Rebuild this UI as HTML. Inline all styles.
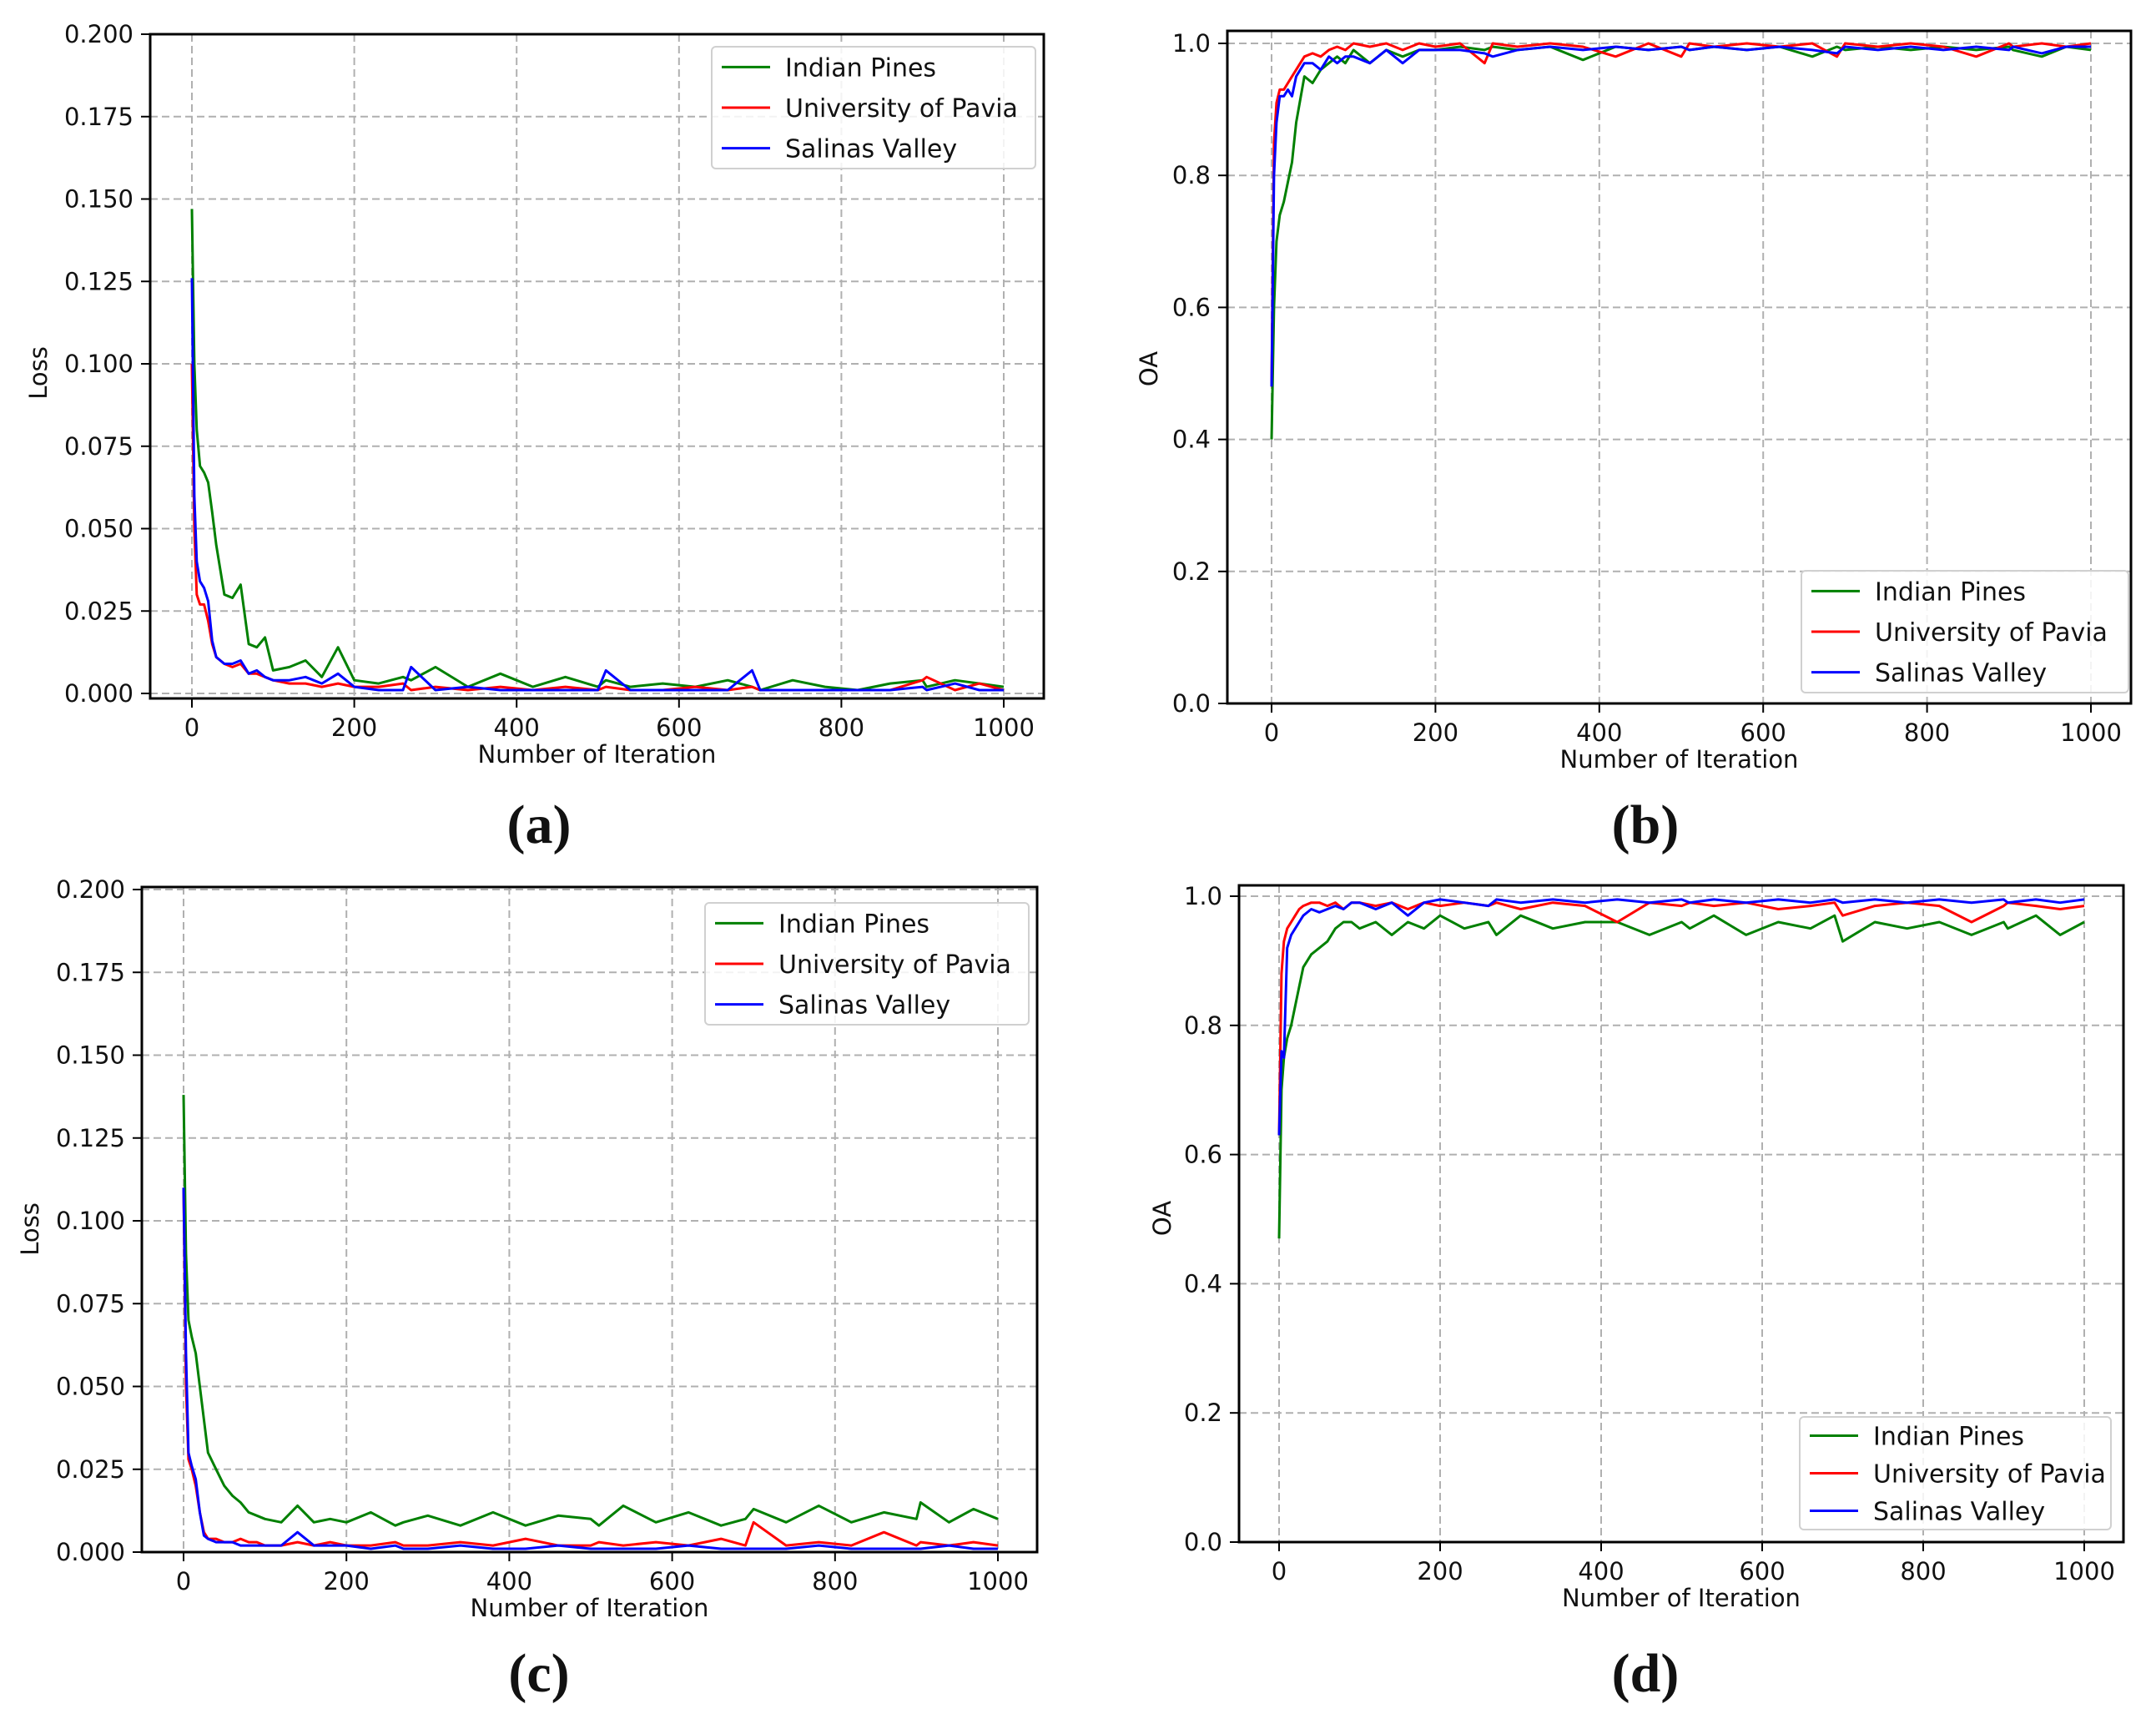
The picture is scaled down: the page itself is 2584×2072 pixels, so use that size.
<!DOCTYPE html>
<html><head><meta charset="utf-8">
<style>
html,body{margin:0;padding:0;background:#fff;}
svg{display:block;}
text{font-family:"DejaVu Sans","Liberation Sans",sans-serif;fill:#111;}
.cap{font-family:"Liberation Serif",serif;font-weight:bold;font-size:66px;}
</style></head>
<body>
<svg id="fig" width="2584" height="2072" viewBox="0 0 2584 2072" xmlns="http://www.w3.org/2000/svg"></svg>
<script>
// ---------- data ----------
const iters = [0,3,6,10,15,20,25,30,40,50,60,70,80,90,100,120,140,160,180,200,230,260,270,300,340,380,420,460,500,510,540,580,620,660,690,700,740,780,820,860,900,905,940,970,1000];
const seriesNames = ["Indian Pines","University of Pavia","Salinas Valley"];
const xTickVals = [0,200,400,600,800,1000];
const lossTickVals = [0,0.025,0.05,0.075,0.1,0.125,0.15,0.175,0.2];
const lossTickLabels = ["0.000","0.025","0.050","0.075","0.100","0.125","0.150","0.175","0.200"];
const oaTickVals = [0,0.2,0.4,0.6,0.8,1.0];
const oaTickLabels = ["0.0","0.2","0.4","0.6","0.8","1.0"];

// (a) loss
const aGreen = [0.147,0.100,0.080,0.069,0.067,0.064,0.055,0.045,0.030,0.029,0.033,0.015,0.014,0.017,0.007,0.008,0.010,0.005,0.014,0.004,0.003,0.005,0.004,0.008,0.002,0.006,0.002,0.005,0.002,0.004,0.002,0.003,0.002,0.004,0.002,0.001,0.004,0.002,0.001,0.003,0.004,0.002,0.004,0.003,0.002];
const aRed   = [0.100,0.050,0.030,0.027,0.027,0.022,0.015,0.011,0.009,0.008,0.009,0.006,0.006,0.005,0.004,0.003,0.003,0.002,0.003,0.002,0.002,0.003,0.001,0.002,0.001,0.002,0.001,0.002,0.001,0.002,0.001,0.001,0.002,0.001,0.002,0.001,0.001,0.001,0.001,0.001,0.004,0.005,0.001,0.003,0.001];
const aBlue  = [0.126,0.060,0.040,0.034,0.032,0.028,0.016,0.011,0.009,0.009,0.010,0.006,0.007,0.005,0.004,0.004,0.005,0.003,0.006,0.002,0.001,0.001,0.008,0.001,0.002,0.001,0.001,0.001,0.001,0.007,0.001,0.001,0.001,0.001,0.007,0.001,0.001,0.001,0.001,0.001,0.002,0.001,0.003,0.001,0.001];
// (b) OA
const bGreen = [0.40,0.60,0.70,0.74,0.76,0.79,0.82,0.88,0.95,0.94,0.96,0.97,0.98,0.97,0.99,0.97,0.99,0.98,0.99,0.99,0.995,0.99,0.995,0.99,0.995,0.975,0.995,0.99,0.995,0.99,0.995,0.99,0.995,0.98,0.995,0.99,0.995,0.99,0.995,0.99,0.995,0.99,0.98,0.995,0.99];
const bRed   = [0.48,0.85,0.91,0.93,0.93,0.94,0.95,0.96,0.98,0.985,0.98,0.99,0.995,0.99,1.0,0.995,1.0,0.99,1.0,0.995,1.0,0.97,1.0,0.995,1.0,0.995,0.98,1.0,0.98,1.0,0.995,1.0,0.995,1.0,0.98,1.0,0.995,1.0,0.995,0.98,1.0,0.995,1.0,0.995,1.0];
const bBlue  = [0.48,0.80,0.88,0.92,0.92,0.93,0.92,0.95,0.97,0.97,0.96,0.98,0.97,0.98,0.98,0.97,0.99,0.97,0.99,0.99,0.99,0.985,0.98,0.99,0.995,0.99,0.995,0.99,0.995,0.99,0.995,0.99,0.995,0.99,0.985,0.995,0.99,0.995,0.99,0.995,0.99,0.995,0.985,0.995,0.995];
// (c) loss
const cGreen = [0.138,0.090,0.070,0.065,0.060,0.050,0.040,0.030,0.025,0.020,0.017,0.015,0.012,0.011,0.010,0.009,0.014,0.009,0.010,0.009,0.012,0.008,0.009,0.011,0.008,0.012,0.008,0.011,0.010,0.008,0.014,0.009,0.012,0.008,0.010,0.013,0.009,0.014,0.009,0.012,0.010,0.015,0.009,0.013,0.010];
const cRed   = [0.110,0.050,0.028,0.025,0.020,0.012,0.006,0.004,0.004,0.003,0.003,0.004,0.003,0.003,0.002,0.002,0.003,0.002,0.003,0.002,0.002,0.003,0.002,0.002,0.003,0.002,0.004,0.002,0.002,0.003,0.002,0.003,0.002,0.004,0.002,0.009,0.002,0.003,0.002,0.006,0.002,0.003,0.002,0.003,0.002];
const cBlue  = [0.110,0.060,0.030,0.026,0.022,0.012,0.005,0.004,0.003,0.003,0.003,0.002,0.002,0.002,0.002,0.002,0.006,0.002,0.002,0.002,0.001,0.002,0.001,0.001,0.002,0.001,0.001,0.002,0.001,0.001,0.001,0.001,0.002,0.001,0.001,0.001,0.001,0.002,0.001,0.001,0.001,0.001,0.002,0.001,0.001];
// (d) OA
const dGreen = [0.47,0.70,0.75,0.78,0.80,0.83,0.86,0.89,0.91,0.92,0.93,0.95,0.96,0.96,0.95,0.96,0.94,0.96,0.95,0.97,0.95,0.96,0.94,0.97,0.95,0.96,0.96,0.94,0.96,0.95,0.97,0.94,0.96,0.95,0.97,0.93,0.96,0.95,0.96,0.94,0.96,0.95,0.97,0.94,0.96];
const dRed   = [0.63,0.88,0.93,0.95,0.96,0.97,0.98,0.985,0.99,0.99,0.985,0.99,0.98,0.99,0.99,0.985,0.99,0.98,0.99,0.985,0.99,0.985,0.99,0.98,0.99,0.985,0.96,0.99,0.985,0.99,0.985,0.99,0.98,0.985,0.99,0.97,0.985,0.99,0.985,0.96,0.985,0.99,0.985,0.98,0.985];
const dBlue  = [0.63,0.76,0.75,0.92,0.94,0.95,0.96,0.97,0.98,0.975,0.98,0.985,0.98,0.99,0.99,0.98,0.99,0.97,0.99,0.995,0.99,0.985,0.995,0.99,0.995,0.99,0.995,0.99,0.995,0.99,0.995,0.99,0.995,0.99,0.995,0.99,0.995,0.99,0.995,0.99,0.995,0.99,0.995,0.99,0.995];

const colors = ["#008000","#ff0000","#0000ff"];
const NS = "http://www.w3.org/2000/svg";
const svg = document.getElementById("fig");
function mk(tag, attrs, parent){
  const e = document.createElementNS(NS, tag);
  for (const k in attrs) e.setAttribute(k, attrs[k]);
  (parent||svg).appendChild(e);
  return e;
}

function panel(cfg){
  const g = mk("g", {});
  
  
  const xs = v => cfg.x0 + v/1000*(cfg.x1000 - cfg.x0);
  const ys = v => cfg.yAt0 + (v - 0)/(cfg.yTop)*(cfg.yAtTop - cfg.yAt0);
  xTickVals.forEach(v=>{
    const l = mk("line",{x1:xs(v),x2:xs(v),y1:cfg.T,y2:cfg.B,stroke:"#b0b0b0","stroke-width":2,"stroke-dasharray":"9,5"},g);
    
    
  });
  cfg.yTicks.forEach(v=>{
    const l = mk("line",{x1:cfg.L,x2:cfg.R,y1:ys(v),y2:ys(v),stroke:"#b0b0b0","stroke-width":2,"stroke-dasharray":"9,5"},g);
    
    
  });
  cfg.series.forEach((vals,i)=>{
    let d = "";
    vals.forEach((v,j)=>{ d += (j?"L":"M") + xs(iters[j]).toFixed(1) + "," + ys(v).toFixed(1); });
    const p = mk("path",{d:d,fill:"none",stroke:colors[i],"stroke-width":3,"stroke-linejoin":"round"},g);
    
    
  });
  const sp = mk("rect",{x:cfg.L,y:cfg.T,width:cfg.R-cfg.L,height:cfg.B-cfg.T,fill:"none",stroke:"#000","stroke-width":3},g);
  
  
  xTickVals.forEach(v=>{
    mk("line",{x1:xs(v),x2:xs(v),y1:cfg.B,y2:cfg.B+11,stroke:"#000","stroke-width":2},g);
    const t = mk("text",{x:xs(v),y:cfg.B+45,"text-anchor":"middle","font-size":29},g);
    t.textContent = String(v);
    
    
  });
  cfg.yTicks.forEach((v,i)=>{
    mk("line",{x1:cfg.L-11,x2:cfg.L,y1:ys(v),y2:ys(v),stroke:"#000","stroke-width":2},g);
    const t = mk("text",{x:cfg.L-20,y:ys(v)+10,"text-anchor":"end","font-size":29},g);
    t.textContent = cfg.yLabels[i];
    
    
  });
  const xt = mk("text",{x:(cfg.L+cfg.R)/2,y:cfg.B+77,"text-anchor":"middle","font-size":29},g);
  xt.textContent = "Number of Iteration";
  
  
  const yt = mk("text",{x:0,y:0,"text-anchor":"middle","font-size":29,transform:`translate(${cfg.ytx},${cfg.yty}) rotate(-90)`},g);
  yt.textContent = cfg.yTitle;
  
  
  const lg = cfg.leg;
  const lgG = mk("g",{},g);
  
  
  mk("rect",{x:lg[0],y:lg[1],width:lg[2]-lg[0],height:lg[3]-lg[1],rx:5,fill:"#fff","fill-opacity":0.85,stroke:"#d0d0d0","stroke-width":2},lgG);
  const rowH = (lg[3]-lg[1])/3;
  seriesNames.forEach((n,i)=>{
    const cy = lg[1] + rowH*(i+0.5);
    const e = mk("g",{},lgG);
    
    
    mk("line",{x1:lg[0]+12,x2:lg[0]+70,y1:cy,y2:cy,stroke:colors[i],"stroke-width":3},e);
    const t = mk("text",{x:lg[0]+88,y:cy+11,"font-size":30,fill:"#222"},e);
    t.textContent = n;
  });
  const c = mk("text",{x:cfg.capX,y:cfg.capY,"text-anchor":"middle",class:"cap"},g);
  c.textContent = cfg.cap;
  
  
}

panel({name:"panel-a-loss",L:180,R:1251,T:41,B:837,x0:230,x1000:1203,yAt0:831,yAtTop:41,yTop:0.2,
  yTicks:lossTickVals,yLabels:lossTickLabels,yTitle:"Loss",ytx:56,yty:447,
  leg:[853,56,1241,202],series:[aGreen,aRed,aBlue],cap:"(a)",capX:646,capY:1010});
panel({name:"panel-b-oa",L:1471,R:2554,T:37,B:843,x0:1524,x1000:2506,yAt0:843,yAtTop:52,yTop:1.0,
  yTicks:oaTickVals,yLabels:oaTickLabels,yTitle:"OA",ytx:1387,yty:442,
  leg:[2159,684,2551,830],series:[bGreen,bRed,bBlue],cap:"(b)",capX:1972,capY:1010});
panel({name:"panel-c-loss",L:170,R:1243,T:1063,B:1860,x0:220,x1000:1196,yAt0:1860,yAtTop:1066,yTop:0.2,
  yTicks:lossTickVals,yLabels:lossTickLabels,yTitle:"Loss",ytx:46,yty:1473,
  leg:[845,1082,1233,1228],series:[cGreen,cRed,cBlue],cap:"(c)",capX:646,capY:2027});
panel({name:"panel-d-oa",L:1485,R:2545,T:1061,B:1848,x0:1533,x1000:2498,yAt0:1848,yAtTop:1074,yTop:1.0,
  yTicks:oaTickVals,yLabels:oaTickLabels,yTitle:"OA",ytx:1403,yty:1460,
  leg:[2157,1698,2530,1833],series:[dGreen,dRed,dBlue],cap:"(d)",capX:1972,capY:2027});
</script>
</body></html>
